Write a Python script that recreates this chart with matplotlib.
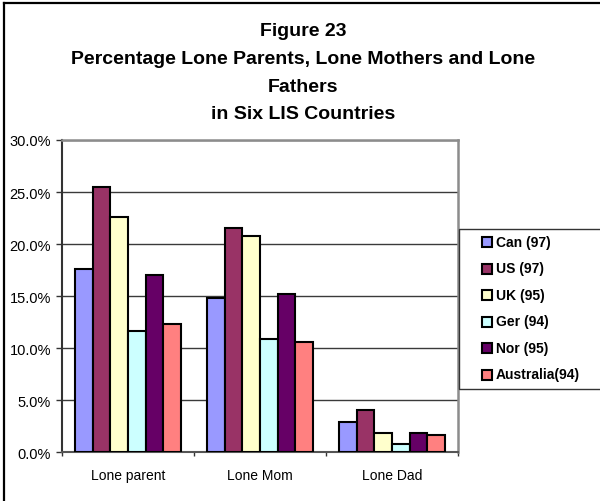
import matplotlib
matplotlib.use("Agg")
import matplotlib.pyplot as plt
from matplotlib.patches import Rectangle
from matplotlib.lines import Line2D
from matplotlib.ticker import FuncFormatter, FixedLocator
import numpy as np

categories = ["Lone parent", "Lone Mom", "Lone Dad"]
series_labels = ["Can (97)", "US (97)", "UK (95)", "Ger (94)", "Nor (95)", "Australia(94)"]
can = [17.6, 14.8, 2.9]
us = [25.5, 21.5, 4.1]
uk = [22.6, 20.8, 1.9]
ger = [11.7, 10.9, 0.8]
nor = [17.0, 15.2, 1.9]
aus = [12.3, 10.6, 1.7]
series_values = [can, us, uk, ger, nor, aus]
colors = ["#9999FF", "#993366", "#FFFFCC", "#CCFFFF", "#660066", "#FF8080"]
title_lines = ["Figure 23", "Percentage Lone Parents, Lone Mothers and Lone", "Fathers", "in Six LIS Countries"]
yticks = [0, 5, 10, 15, 20, 25, 30]

plt.rcParams['font.family'] = ['Liberation Sans', 'DejaVu Sans']

W, H = 600, 502
fig = plt.figure(figsize=(6.0, 5.02), dpi=100)
ax = fig.add_axes([62 / W, 1 - 453.3 / H, 396 / W, 312.3 / H])

n = len(series_values)
bw = 1 / 7.5
x = np.arange(len(categories))
for i, (vals, c) in enumerate(zip(series_values, colors)):
    ax.bar(x + (i - (n - 1) / 2) * bw, vals, width=bw, color=c,
           edgecolor="black", linewidth=1.5, zorder=3)

ax.set_xlim(-0.5, len(categories) - 0.5)
ax.set_ylim(0, 30)
ax.set_yticks(yticks)
ax.yaxis.set_major_formatter(FuncFormatter(lambda v, p: f"{v:.1f}%"))
ax.yaxis.grid(True, color="#3a3a3a", linewidth=1.0, zorder=0)
ax.set_axisbelow(True)

ax.set_xticks(x)
ax.set_xticklabels(categories)
ax.xaxis.set_minor_locator(FixedLocator(np.arange(-0.5, len(categories), 1.0)))
ax.tick_params(axis="x", which="major", length=0, pad=11, labelsize=10)
ax.tick_params(axis="x", which="minor", length=3, width=1, color="#333333")
ax.tick_params(axis="y", length=4, width=1, color="#333333", pad=4, labelsize=10.5)

for s in ["top", "right"]:
    ax.spines[s].set_color("#8c8c8c")
    ax.spines[s].set_linewidth(1.8)
ax.spines["left"].set_color("#333333")
ax.spines["left"].set_linewidth(1.5)
ax.spines["bottom"].set_color("#555555")
ax.spines["bottom"].set_linewidth(1.5)

# title
ys = [32, 59.5, 87, 114.5]
for t, yy in zip(title_lines, ys):
    fig.text(303 / W, 1 - yy / H, t, ha="center", va="center",
             fontsize=14, fontweight="bold")

# outer frame (top and left)
fig.add_artist(Line2D([3.5 / W, 3.5 / W], [0, 1 - 3.5 / H], transform=fig.transFigure,
                      color="black", linewidth=1.6))
fig.add_artist(Line2D([3.5 / W, 1], [1 - 3.5 / H, 1 - 3.5 / H], transform=fig.transFigure,
                      color="black", linewidth=1.6))

# legend
fig.add_artist(Rectangle((459 / W, 1 - 390 / H), 150 / W, 160 / H, transform=fig.transFigure,
                         facecolor="white", edgecolor="#333333", linewidth=1.0))
row0, step = 243, 26.5
for i, (lab, c) in enumerate(zip(series_labels, colors)):
    yc = row0 + i * step
    fig.add_artist(Rectangle((482 / W, 1 - (yc + 5) / H), 10 / W, 10 / H,
                             transform=fig.transFigure, facecolor=c,
                             edgecolor="black", linewidth=1.5))
    fig.text(496 / W, 1 - yc / H, lab, ha="left", va="center",
             fontsize=10, fontweight="bold")

fig.savefig("out.png", dpi=100)
